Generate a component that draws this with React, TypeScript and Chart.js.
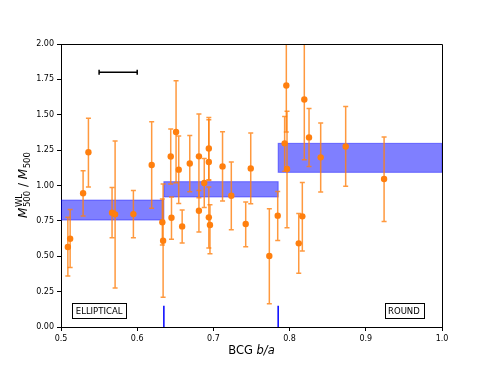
import React, { useEffect, useRef } from "react";
import { Chart, registerables } from "chart.js";
Chart.register(...registerables);

// ---- data ----
const ratioBA = [0.509, 0.512, 0.529, 0.536, 0.567, 0.571, 0.595, 0.619, 0.633, 0.634, 0.644, 0.645, 0.651, 0.6545, 0.659, 0.669, 0.681, 0.681, 0.688, 0.694, 0.694, 0.694, 0.6955, 0.712, 0.7235, 0.7424, 0.749, 0.7734, 0.7844, 0.7935, 0.7957, 0.7966, 0.812, 0.8167, 0.8193, 0.8255, 0.8408, 0.8736, 0.924];
const massRatio = [0.565, 0.624, 0.945, 1.235, 0.808, 0.796, 0.798, 1.145, 0.74, 0.61, 1.205, 0.772, 1.378, 1.112, 0.711, 1.156, 1.206, 0.822, 1.018, 1.262, 1.166, 0.775, 0.721, 1.135, 0.928, 0.728, 1.121, 0.502, 0.787, 1.298, 1.707, 1.117, 0.591, 0.782, 1.608, 1.34, 1.199, 1.276, 1.046];
const errLow = [0.36, 0.42, 0.785, 0.99, 0.63, 0.275, 0.63, 0.84, 0.58, 0.21, 1.01, 0.62, 1.02, 0.873, 0.593, 0.956, 0.914, 0.671, 0.845, 1.04, 1.035, 0.558, 0.518, 0.89, 0.688, 0.567, 0.871, 0.165, 0.612, 1.1, 1.378, 0.702, 0.379, 0.537, 1.182, 1.135, 0.954, 0.994, 0.746];
const errHigh = [0.775, 0.83, 1.105, 1.475, 0.985, 1.315, 0.965, 1.45, 0.905, 1.01, 1.4, 0.918, 1.74, 1.35, 0.827, 1.354, 1.505, 0.965, 1.19, 1.48, 1.465, 0.99, 0.864, 1.38, 1.166, 0.883, 1.371, 0.836, 0.958, 1.488, 2.2, 1.524, 0.803, 1.022, 2.2, 1.545, 1.442, 1.559, 1.343];

const binEdges = [0.5, 0.635, 0.785, 1.0];
const binLow = [0.756, 0.919, 1.093];
const binHigh = [0.897, 1.027, 1.298];
const splitMarks = [0.635, 0.785];
const splitMarkTop = 0.15;
const scaleBarX = [0.55, 0.6];
const scaleBarY = 1.8;
const classLabels = ["ELLIPTICAL", "ROUND"];
const classLabelX = [0.55, 0.95];
const classLabelY = 0.118;
const xTicks = [0.5, 0.6, 0.7, 0.8, 0.9, 1.0];
const yTicks = [0, 0.25, 0.5, 0.75, 1.0, 1.25, 1.5, 1.75, 2.0];

const FONT = '"DejaVu Sans", sans-serif';

const overlay = {
  id: "overlay",
  beforeDatasetsDraw(chart: any) {
    const { ctx, chartArea: a, scales } = chart;
    const x = scales.x, y = scales.y;
    ctx.save();
    ctx.beginPath();
    ctx.rect(a.left, a.top, a.right - a.left, a.bottom - a.top);
    ctx.clip();
    for (let i = 0; i < binLow.length; i++) {
      const x0 = x.getPixelForValue(binEdges[i]);
      const x1 = x.getPixelForValue(binEdges[i + 1]);
      const y0 = y.getPixelForValue(binHigh[i]);
      const y1 = y.getPixelForValue(binLow[i]);
      ctx.fillStyle = "rgba(0,0,255,0.5)";
      ctx.fillRect(x0, y0, x1 - x0, y1 - y0);
      ctx.strokeStyle = "rgba(0,0,255,0.45)";
      ctx.lineWidth = 1;
      ctx.strokeRect(x0, y0, x1 - x0, y1 - y0);
    }
    ctx.strokeStyle = "rgba(255,127,14,0.8)";
    ctx.lineWidth = 1.5;
    for (let i = 0; i < ratioBA.length; i++) {
      const px = x.getPixelForValue(ratioBA[i]);
      const lo = y.getPixelForValue(errLow[i]);
      const hi = y.getPixelForValue(errHigh[i]);
      ctx.beginPath();
      ctx.moveTo(px, lo);
      ctx.lineTo(px, hi);
      ctx.moveTo(px - 2.5, lo);
      ctx.lineTo(px + 2.5, lo);
      ctx.moveTo(px - 2.5, hi);
      ctx.lineTo(px + 2.5, hi);
      ctx.stroke();
    }
    ctx.restore();
  },
  afterDraw(chart: any) {
    const { ctx, chartArea: a, scales } = chart;
    const x = scales.x, y = scales.y;
    ctx.save();
    // frame top/right
    ctx.strokeStyle = "#000";
    ctx.lineWidth = 1;
    ctx.beginPath();
    ctx.moveTo(a.left, a.top + 0.5);
    ctx.lineTo(a.right + 0.5, a.top + 0.5);
    ctx.lineTo(a.right + 0.5, a.bottom);
    ctx.stroke();
    // split marks
    ctx.strokeStyle = "#0000ff";
    ctx.lineWidth = 1.5;
    for (const s of splitMarks) {
      const px = x.getPixelForValue(s);
      ctx.beginPath();
      ctx.moveTo(px, y.getPixelForValue(0));
      ctx.lineTo(px, y.getPixelForValue(splitMarkTop));
      ctx.stroke();
    }
    // scale bar
    ctx.strokeStyle = "#000";
    ctx.lineWidth = 1.5;
    const sx0 = x.getPixelForValue(scaleBarX[0]);
    const sx1 = x.getPixelForValue(scaleBarX[1]);
    const sy = y.getPixelForValue(scaleBarY);
    ctx.beginPath();
    ctx.moveTo(sx0, sy);
    ctx.lineTo(sx1, sy);
    ctx.moveTo(sx0, sy - 2.5);
    ctx.lineTo(sx0, sy + 2.5);
    ctx.moveTo(sx1, sy - 2.5);
    ctx.lineTo(sx1, sy + 2.5);
    ctx.stroke();
    // class label boxes
    ctx.font = `8.5px ${FONT}`;
    ctx.textAlign = "center";
    ctx.textBaseline = "middle";
    for (let i = 0; i < classLabels.length; i++) {
      const cx = x.getPixelForValue(classLabelX[i]);
      const cy = y.getPixelForValue(classLabelY);
      const w = ctx.measureText(classLabels[i]).width + 7;
      const h = 15;
      ctx.fillStyle = "#fff";
      ctx.fillRect(cx - w / 2, cy - h / 2, w, h);
      ctx.strokeStyle = "#000";
      ctx.lineWidth = 1;
      ctx.strokeRect(Math.round(cx - w / 2) + 0.5, Math.round(cy - h / 2) + 0.5, Math.round(w), h);
      ctx.fillStyle = "#000";
      ctx.fillText(classLabels[i], cx, cy + 1);
    }
    // x axis title: BCG b/a
    const xs = 11.5;
    ctx.textAlign = "left";
    ctx.textBaseline = "alphabetic";
    ctx.font = `${xs}px ${FONT}`;
    const t1 = "BCG ";
    const w1 = ctx.measureText(t1).width;
    ctx.font = `italic ${xs}px ${FONT}`;
    const t2 = "b/a";
    const w2 = ctx.measureText(t2).width;
    const xc = (a.left + a.right) / 2;
    const xx = xc - (w1 + w2) / 2;
    ctx.font = `${xs}px ${FONT}`;
    ctx.fillText(t1, xx, 354);
    ctx.font = `italic ${xs}px ${FONT}`;
    ctx.fillText(t2, xx + w1, 354);
    // y axis title
    const big = 12, small = 8.5;
    ctx.translate(27, (a.top + a.bottom) / 2);
    ctx.rotate(-Math.PI / 2);
    ctx.font = `italic ${big}px ${FONT}`;
    const mW = ctx.measureText("M").width;
    ctx.font = `${small}px ${FONT}`;
    const supW = ctx.measureText("WL").width;
    const subW = ctx.measureText("500").width;
    ctx.font = `${big}px ${FONT}`;
    const slashW = ctx.measureText(" / ").width;
    const total = mW + Math.max(supW, subW) + slashW + mW + subW;
    let p = -total / 2;
    ctx.fillStyle = "#000";
    ctx.font = `italic ${big}px ${FONT}`;
    ctx.fillText("M", p, 0);
    p += mW;
    ctx.font = `${small}px ${FONT}`;
    ctx.fillText("WL", p + 0.5, -5.5);
    ctx.fillText("500", p + 0.5, 3);
    p += Math.max(supW, subW) + 0.5;
    ctx.font = `${big}px ${FONT}`;
    ctx.fillText(" / ", p, 0);
    p += slashW;
    ctx.font = `italic ${big}px ${FONT}`;
    ctx.fillText("M", p, 0);
    p += mW;
    ctx.font = `${small}px ${FONT}`;
    ctx.fillText("500", p + 0.5, 3);
    ctx.restore();
  },
};

export default function App() {
  const ref = useRef<HTMLCanvasElement>(null);
  useEffect(() => {
    if (!ref.current) return;
    const points = ratioBA.map((v, i) => ({ x: v, y: massRatio[i] }));
    const chart = new Chart(ref.current, {
      type: "scatter",
      data: {
        datasets: [
          {
            data: points,
            backgroundColor: "#ff7f0e",
            borderWidth: 0,
            pointRadius: 3.2,
          },
        ],
      },
      options: {
        responsive: false,
        animation: false,
        devicePixelRatio: 1,
        layout: { padding: { left: 0, top: 44, right: 49, bottom: 0 } },
        plugins: { legend: { display: false }, tooltip: { enabled: false } },
        scales: {
          x: {
            type: "linear",
            min: 0.5,
            max: 1.0,
            afterBuildTicks: (s: any) => {
              s.ticks = xTicks.map((v) => ({ value: v }));
            },
            afterFit: (s: any) => {
              s.height = 41;
            },
            ticks: {
              callback: (v: any) => Number(v).toFixed(1),
              font: { family: FONT, size: 8 },
              color: "#000",
              padding: 3,
              maxRotation: 0,
            },
            grid: { drawOnChartArea: false, drawTicks: true, tickLength: 4, color: "#000", tickColor: "#000" },
            border: { display: true, color: "#000", width: 1 },
          },
          y: {
            type: "linear",
            min: 0,
            max: 2,
            afterBuildTicks: (s: any) => {
              s.ticks = yTicks.map((v) => ({ value: v }));
            },
            afterFit: (s: any) => {
              s.width = 61;
            },
            ticks: {
              callback: (v: any) => Number(v).toFixed(2),
              font: { family: FONT, size: 8 },
              color: "#000",
              padding: 3,
            },
            grid: { drawOnChartArea: false, drawTicks: true, tickLength: 4, color: "#000", tickColor: "#000" },
            border: { display: true, color: "#000", width: 1 },
          },
        },
      },
      plugins: [overlay],
    });
    return () => chart.destroy();
  }, []);
  return (
    <div style={{ position: "fixed", left: 0, top: 0, width: 491, height: 368, background: "#fff" }}>
      <canvas ref={ref} width={491} height={368} />
    </div>
  );
}
